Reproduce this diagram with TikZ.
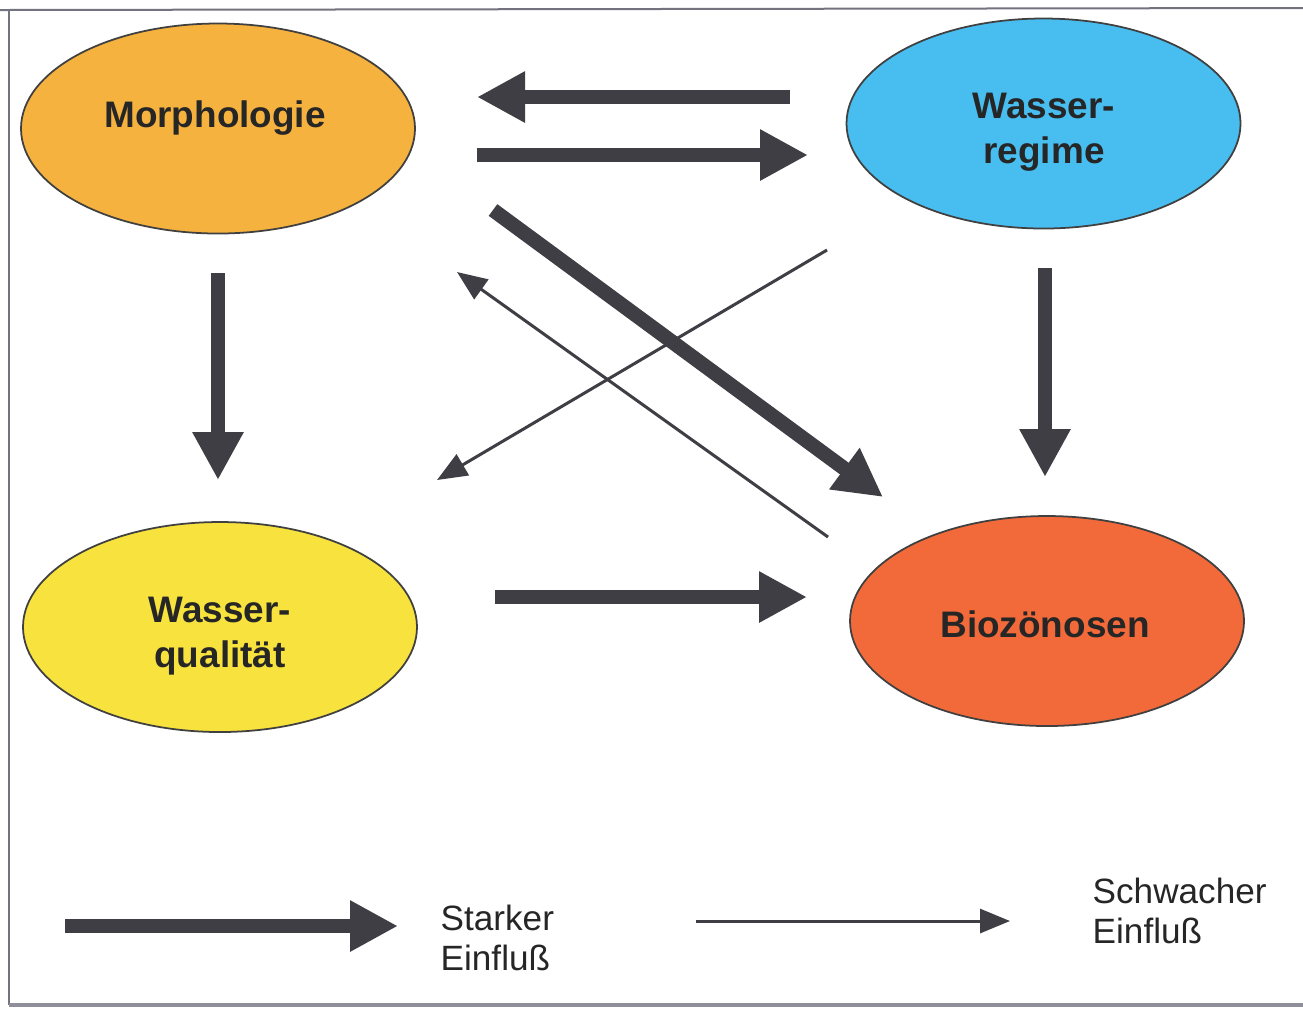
\documentclass[tikz,border=0pt]{standalone}
\usepackage{fontspec}
\setmainfont{Liberation Sans}
\usetikzlibrary{arrows.meta,shapes.geometric}
\definecolor{cMorph}{RGB}{246,178,62}
\definecolor{cRegime}{RGB}{72,190,240}
\definecolor{cQual}{RGB}{247,226,62}
\definecolor{cBio}{RGB}{242,106,58}
\definecolor{cArrow}{RGB}{62,62,68}
\definecolor{cFrame}{RGB}{115,115,128}
\tikzset{
  ell/.style={ellipse, draw=black!75, line width=0.5pt, minimum width=3.94cm, minimum height=2.10cm, inner sep=0pt},
  strong/.style={draw=cArrow, line width=0.145cm, -{Triangle[length=0.48cm,width=0.48cm]}},
  weak/.style={draw=cArrow, line width=0.03cm, -{Triangle[length=0.30cm,width=0.24cm]}},
  lbl/.style={font=\fontsize{10.5}{12.6}\selectfont\bfseries, text=black!85, inner sep=0pt, anchor=base},
  leg/.style={font=\fontsize{10}{12}\selectfont, text=black!85, inner sep=0pt, anchor=base west}
}
\begin{document}
\begin{tikzpicture}[x=1cm,y=1cm]
\useasboundingbox (0,0) rectangle (13.03,-10.09);
\fill[white] (0,0) rectangle (13.03,-10.09);
% frame
\coordinate (ftl) at (0,-0.10);
\coordinate (ftr) at (13.03,-0.08);
\coordinate (flt) at (0.09,-0.11);
\coordinate (flb) at (0.09,-10.05);
\coordinate (fbr) at (13.03,-10.05);
\draw[cFrame, line width=0.02cm] (ftl) -- (ftr);
\draw[cFrame, line width=0.02cm] (flt) -- (flb);
\draw[cFrame!80, line width=0.04cm] (flb) -- (fbr);
% ellipses
\node[ell, fill=cMorph] (morph) at (2.18,-1.285) {};
\node[ell, fill=cRegime] (regime) at (10.435,-1.235) {};
\node[ell, fill=cQual] (qual) at (2.20,-6.27) {};
\node[ell, fill=cBio] (bio) at (10.47,-6.21) {};
% labels
\node[lbl] (morphT) at (2.15,-1.27) {Morphologie};
\node[lbl] (regimeT1) at (10.44,-1.18) {Wasser-};
\node[lbl] (regimeT2) at (10.44,-1.63) {regime};
\node[lbl] (qualT1) at (2.20,-6.22) {Wasser-};
\node[lbl] (qualT2) at (2.20,-6.67) {qualität};
\node[lbl] (bioT) at (10.45,-6.37) {Biozönosen};
% strong arrows
\coordinate (a1s) at (7.90,-0.97);  \coordinate (a1e) at (4.77,-0.97);
\coordinate (a2s) at (4.77,-1.55);  \coordinate (a2e) at (8.08,-1.55);
\coordinate (a3s) at (2.18,-2.73);  \coordinate (a3e) at (2.18,-4.80);
\coordinate (a4s) at (10.45,-2.68); \coordinate (a4e) at (10.45,-4.77);
\coordinate (a5s) at (4.95,-5.97);  \coordinate (a5e) at (8.07,-5.97);
\coordinate (a6s) at (4.93,-2.10);  \coordinate (a6e) at (8.83,-4.97);
\draw[strong] (a1s) -- (a1e);
\draw[strong] (a2s) -- (a2e);
\draw[strong] (a3s) -- (a3e);
\draw[strong] (a4s) -- (a4e);
\draw[strong] (a5s) -- (a5e);
\draw[strong] (a6s) -- (a6e);
% weak arrows
\coordinate (w1s) at (8.27,-2.50); \coordinate (w1e) at (4.37,-4.80);
\coordinate (w2s) at (8.28,-5.37); \coordinate (w2e) at (4.57,-2.72);
\draw[weak] (w1s) -- (w1e);
\draw[weak] (w2s) -- (w2e);
% legend
\coordinate (l1s) at (0.65,-9.26); \coordinate (l1e) at (3.98,-9.26);
\coordinate (l2s) at (6.96,-9.21); \coordinate (l2e) at (10.10,-9.21);
\draw[strong] (l1s) -- (l1e);
\draw[weak] (l2s) -- (l2e);
\node[leg] (legS1) at (4.40,-9.30) {Starker};
\node[leg] (legS2) at (4.40,-9.70) {Einfluß};
\node[leg] (legW1) at (10.92,-9.03) {Schwacher};
\node[leg] (legW2) at (10.92,-9.43) {Einfluß};
\end{tikzpicture}
\end{document}
